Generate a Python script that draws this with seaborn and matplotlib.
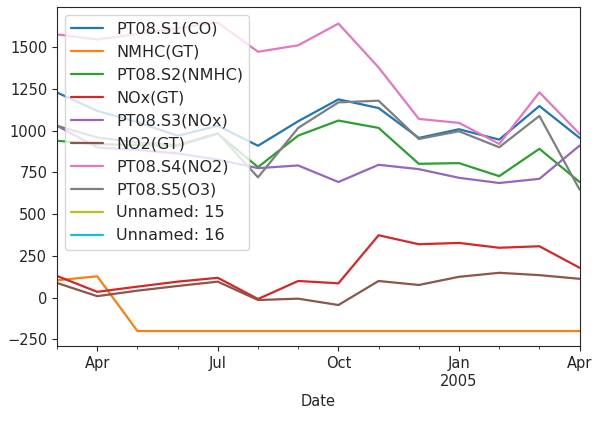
import numpy as np
import pandas as pd
import matplotlib
matplotlib.use("Agg")
import matplotlib.pyplot as plt
import seaborn as sns

sns.set_style("ticks")
plt.rcParams["font.family"] = ["DejaVu Sans"]

# monthly means, Mar 2004 .. Apr 2005
months = pd.period_range("2004-03", "2005-04", freq="M")
s1_co = [1229, 1119, 1052, 970, 1030, 910, 1057, 1188, 1136, 957, 1009, 947, 1148, 957]
nmhc_gt = [104, 128, -200, -200, -200, -200, -200, -200, -200, -200, -200, -200, -200, -200]
s2_nmhc = [940, 920, 915, 910, 982, 782, 971, 1061, 1017, 802, 806, 728, 892, 693]
nox_gt = [130, 35, 66, 96, 119, -8, 100, 86, 374, 320, 328, 299, 308, 179]
s3_nox = [1030, 900, 885, 864, 827, 776, 792, 693, 796, 770, 718, 687, 712, 911]
no2_gt = [88, 9, 42, 70, 96, -14, -6, -44, 100, 76, 125, 149, 135, 113]
s4_no2 = [1577, 1547, 1580, 1615, 1648, 1473, 1512, 1642, 1379, 1071, 1047, 921, 1230, 981]
s5_o3 = [1030, 960, 930, 915, 985, 721, 1017, 1170, 1180, 951, 997, 901, 1089, 647]
unnamed15 = [np.nan] * 14
unnamed16 = [np.nan] * 14

major_labels = {"2004-04": "Apr", "2004-07": "Jul", "2004-10": "Oct",
                "2005-01": "Jan\n2005", "2005-04": "Apr"}

x = np.array([p.ordinal for p in months])
df = pd.DataFrame({
    "PT08.S1(CO)": s1_co,
    "NMHC(GT)": nmhc_gt,
    "PT08.S2(NMHC)": s2_nmhc,
    "NOx(GT)": nox_gt,
    "PT08.S3(NOx)": s3_nox,
    "NO2(GT)": no2_gt,
    "PT08.S4(NO2)": s4_no2,
    "PT08.S5(O3)": s5_o3,
    "Unnamed: 15": unnamed15,
    "Unnamed: 16": unnamed16,
}, index=x)

fig, ax = plt.subplots(figsize=(6, 4.21), dpi=100)
fig.subplots_adjust(left=0.095, right=0.966, top=0.983, bottom=0.177)

palette = sns.color_palette("tab10", 10)
for col, color in zip(df.columns, palette):
    if df[col].notna().any():
        sns.lineplot(x=df.index, y=df[col], ax=ax, color=color, label=col, linewidth=1.6)
    else:
        # empty columns still get a legend entry
        ax.plot([], [], color=color, label=col, linewidth=1.6)

ax.set_xlim(x[0], x[-1])
keys = [p.strftime("%Y-%m") for p in months]
ax.set_xticks([xi for xi, k in zip(x, keys) if k in major_labels])
ax.set_xticklabels([major_labels[k] for k in keys if k in major_labels], fontsize=10.5)
ax.set_xticks(x, minor=True)
ax.tick_params(axis="y", labelsize=10.5)
ax.set_yticks([-250, 0, 250, 500, 750, 1000, 1250, 1500])
ax.set_xlabel("Date", fontsize=10.5)
ax.set_ylabel("")
ax.legend(loc="upper left", fontsize=11.5)

fig.savefig("out.png", dpi=100)
